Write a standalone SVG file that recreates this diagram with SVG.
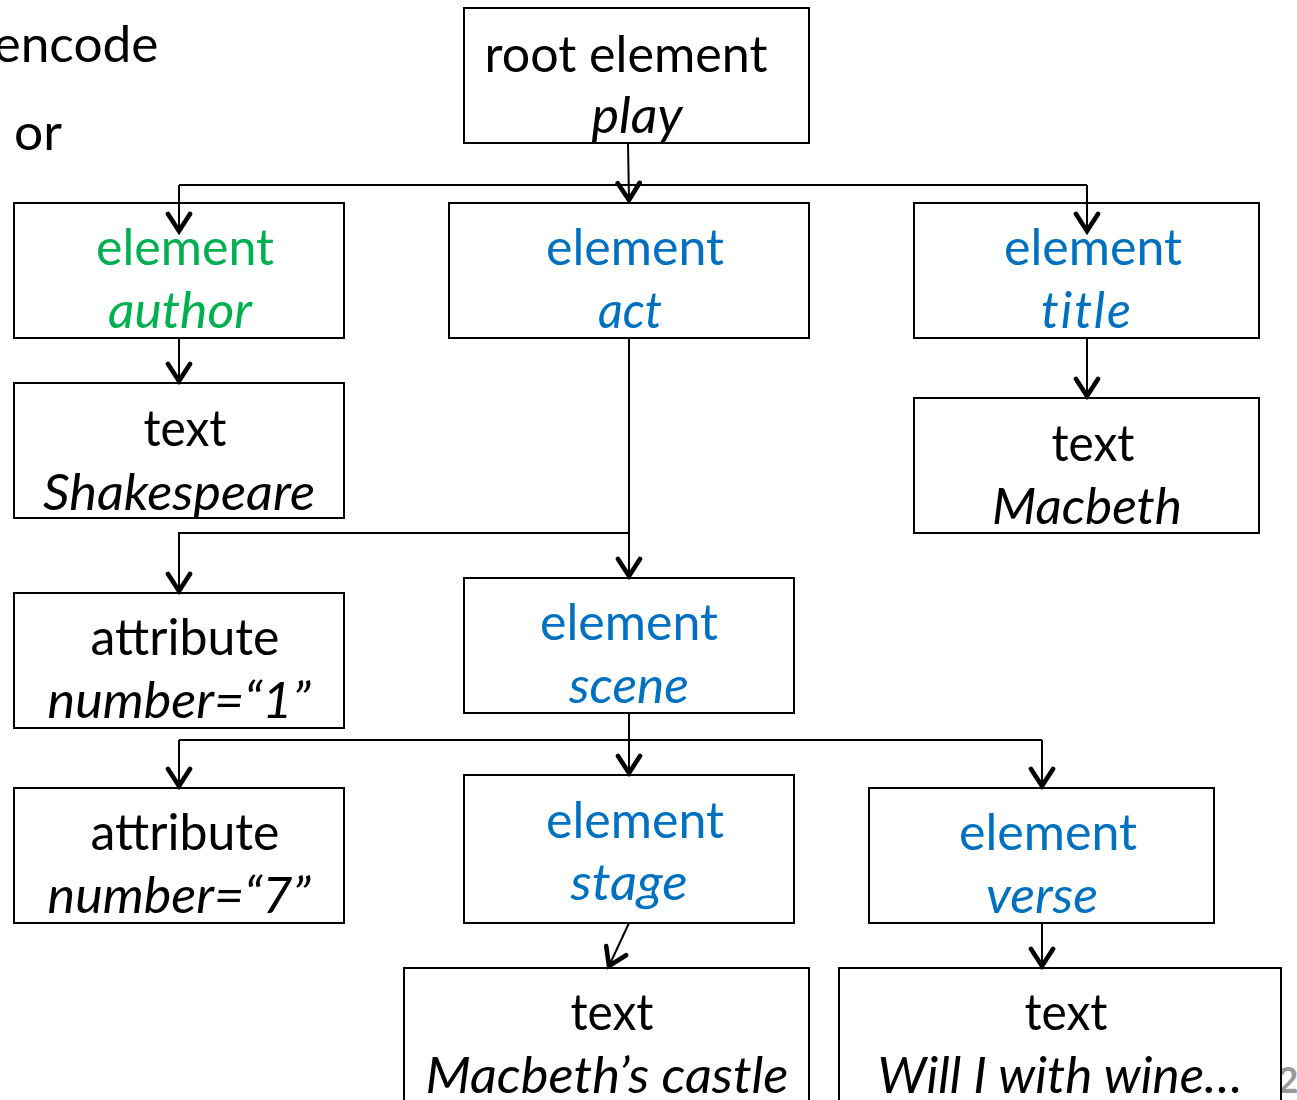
<svg xmlns="http://www.w3.org/2000/svg" width="1297" height="1100" viewBox="0 0 1297 1100">
<defs>
<style>
text{font-family:Lato,"Open Sans","Liberation Sans",sans-serif;font-size:50px;text-anchor:middle;fill:#000}
.i{font-style:italic}
.g{fill:#00B050}
.b{fill:#0070C0}
.nl{font-variant-ligatures:none}
.box{fill:#fff;stroke:#000;stroke-width:2}
.c{fill:none;stroke:#000;stroke-width:2}
</style>
<marker id="ah" viewBox="0 0 24 28" markerWidth="24" markerHeight="28" refX="20" refY="14" orient="auto" markerUnits="userSpaceOnUse">
<path d="M3,3 L20,14 L3,25" fill="none" stroke="#000" stroke-width="4.6" stroke-linejoin="miter" stroke-miterlimit="2" stroke-linecap="round"/>
</marker>
</defs>
<rect width="1297" height="1100" fill="#fff"/>
<text x="76" y="62" textLength="165" lengthAdjust="spacingAndGlyphs">encode</text>
<text x="38" y="150" textLength="48" lengthAdjust="spacingAndGlyphs">or</text>
<text x="1288" y="1093" style="fill:#999;font-size:36px;font-weight:bold">2</text>

<g id="root">
<rect class="box" x="464" y="8" width="345" height="135"/>
<text x="626" y="72" textLength="283" lengthAdjust="spacingAndGlyphs">root element</text>
<text class="i" x="637" y="133" textLength="91" lengthAdjust="spacingAndGlyphs">play</text>
</g>
<g id="author">
<rect class="box" x="14" y="203" width="330" height="135"/>
<text class="g" x="185" y="265" textLength="178" lengthAdjust="spacingAndGlyphs">element</text>
<text class="g i" x="180" y="328" textLength="144" lengthAdjust="spacingAndGlyphs">author</text>
</g>
<g id="act">
<rect class="box" x="449" y="203" width="360" height="135"/>
<text class="b" x="635" y="265" textLength="178" lengthAdjust="spacingAndGlyphs">element</text>
<text class="b i" x="630" y="328" textLength="64" lengthAdjust="spacingAndGlyphs">act</text>
</g>
<g id="title">
<rect class="box" x="914" y="203" width="345" height="135"/>
<text class="b" x="1093" y="265" textLength="178" lengthAdjust="spacingAndGlyphs">element</text>
<text class="b i nl" x="1087" y="328" letter-spacing="2">title</text>
</g>
<g id="shakespeare">
<rect class="box" x="14" y="383" width="330" height="135"/>
<text x="185" y="446" textLength="83" lengthAdjust="spacingAndGlyphs">text</text>
<text class="i" x="179" y="510" textLength="272" lengthAdjust="spacingAndGlyphs">Shakespeare</text>
</g>
<g id="macbeth">
<rect class="box" x="914" y="398" width="345" height="135"/>
<text x="1093" y="461" textLength="83" lengthAdjust="spacingAndGlyphs">text</text>
<text class="i" x="1087" y="524" textLength="190" lengthAdjust="spacingAndGlyphs">Macbeth</text>
</g>
<g id="attr1">
<rect class="box" x="14" y="593" width="330" height="135"/>
<text x="185" y="655" textLength="189" lengthAdjust="spacingAndGlyphs">attribute</text>
<text class="i" x="179" y="718" textLength="263" lengthAdjust="spacingAndGlyphs">number=“1”</text>
</g>
<g id="scene">
<rect class="box" x="464" y="578" width="330" height="135"/>
<text class="b" x="629" y="640" textLength="178" lengthAdjust="spacingAndGlyphs">element</text>
<text class="b i" x="629" y="703" textLength="120" lengthAdjust="spacingAndGlyphs">scene</text>
</g>
<g id="attr7">
<rect class="box" x="14" y="788" width="330" height="135"/>
<text x="185" y="850" textLength="189" lengthAdjust="spacingAndGlyphs">attribute</text>
<text class="i" x="179" y="913" textLength="263" lengthAdjust="spacingAndGlyphs">number=“7”</text>
</g>
<g id="stage">
<rect class="box" x="464" y="775" width="330" height="148"/>
<text class="b" x="635" y="838" textLength="178" lengthAdjust="spacingAndGlyphs">element</text>
<text class="b i" x="629" y="900" textLength="117" lengthAdjust="spacingAndGlyphs">stage</text>
</g>
<g id="verse">
<rect class="box" x="869" y="788" width="345" height="135"/>
<text class="b" x="1048" y="850" textLength="178" lengthAdjust="spacingAndGlyphs">element</text>
<text class="b i" x="1042" y="913" textLength="112" lengthAdjust="spacingAndGlyphs">verse</text>
</g>
<g id="castle">
<rect class="box" x="404" y="968" width="405" height="140"/>
<text x="612" y="1030" textLength="83" lengthAdjust="spacingAndGlyphs">text</text>
<text class="i" x="607" y="1093" textLength="363" lengthAdjust="spacingAndGlyphs">Macbeth’s castle</text>
</g>
<g id="wine">
<rect class="box" x="839" y="968" width="442" height="140"/>
<text x="1066" y="1030" textLength="83" lengthAdjust="spacingAndGlyphs">text</text>
<text class="i" x="1060" y="1093" textLength="365" lengthAdjust="spacingAndGlyphs">Will I with wine…</text>
</g>

<g id="connectors">
<path class="c" d="M628,143 L629,200" marker-end="url(#ah)"/>
<path class="c" d="M179,185 L1087,185"/>
<path class="c" d="M179,185 L179,231" marker-end="url(#ah)"/>
<path class="c" d="M1087,185 L1087,231" marker-end="url(#ah)"/>
<path class="c" d="M179,338 L179,381" marker-end="url(#ah)"/>
<path class="c" d="M629,338 L629,576" marker-end="url(#ah)"/>
<path class="c" d="M629,533 L179,533 L179,591" marker-end="url(#ah)"/>
<path class="c" d="M1087,338 L1087,396" marker-end="url(#ah)"/>
<path class="c" d="M629,713 L629,773" marker-end="url(#ah)"/>
<path class="c" d="M179,740 L1042,740"/>
<path class="c" d="M179,740 L179,786" marker-end="url(#ah)"/>
<path class="c" d="M1042,740 L1042,786" marker-end="url(#ah)"/>
<path class="c" d="M629,923 L609,966" marker-end="url(#ah)"/>
<path class="c" d="M1042,923 L1042,966" marker-end="url(#ah)"/>
</g>
</svg>
